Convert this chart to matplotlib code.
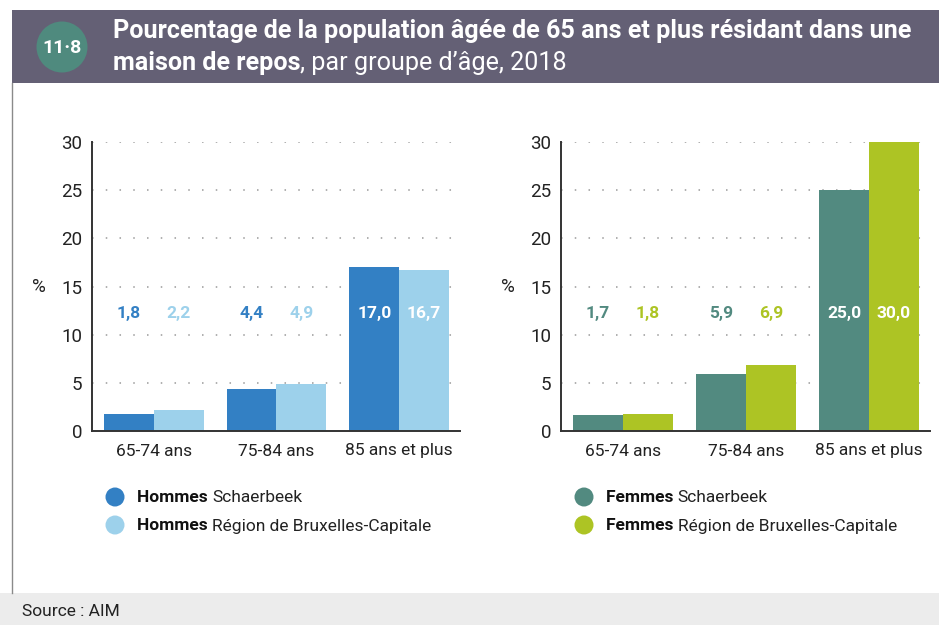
import matplotlib
matplotlib.use("Agg")
import matplotlib.pyplot as plt
from matplotlib.patches import Rectangle, Ellipse
import numpy as np

plt.rcParams['font.family'] = ['Roboto', 'DejaVu Sans']

# data
age_groups = ["65-74 ans", "75-84 ans", "85 ans et plus"]
hommes_schaerbeek = [1.8, 4.4, 17.0]
hommes_region = [2.2, 4.9, 16.7]
femmes_schaerbeek = [1.7, 5.9, 25.0]
femmes_region = [1.8, 6.9, 30.0]
yticks = [0, 5, 10, 15, 20, 25, 30]

C_H1, C_H2 = "#3380c4", "#9dd1eb"
C_F1, C_F2 = "#528a80", "#adc424"

W, H = 939, 625
fig = plt.figure(figsize=(W / 100, H / 100), dpi=100)
fig.patch.set_facecolor("white")


def px(x, y):
    return x / W, 1 - y / H


def dot(x, y, d, color):
    fig.add_artist(Ellipse(px(x, y), d / W, d / H, transform=fig.transFigure,
                           facecolor=color, edgecolor="none"))


# header band, frame line and footer
fig.add_artist(Rectangle(px(12, 83), (W - 12) / W, 73 / H, transform=fig.transFigure,
                         facecolor="#646075", edgecolor="none"))
fig.add_artist(Rectangle(px(0, 625), 1, 32 / H, transform=fig.transFigure,
                         facecolor="#ececec", edgecolor="none"))
fig.add_artist(plt.Line2D([12 / W, 12 / W], [1 - 83 / H, 1 - 593 / H],
                          transform=fig.transFigure, color="#8a8a8a", lw=1))

# badge
dot(62, 47, 51, "#4f8a7e")
fig.text(*px(62, 48), "11·8", color="white", fontsize=14, fontweight="bold",
         ha="center", va="center")

fig.canvas.draw()
renderer = fig.canvas.get_renderer()


def mixed(x, y, parts, **kw):
    """Write consecutive text pieces with different weights on one line."""
    xf, yf = px(x, y)
    for s, weight, color in parts:
        t = fig.text(xf, yf, s, fontweight=weight, color=color, va="center", **kw)
        bb = t.get_window_extent(renderer=renderer)
        xf += bb.width / W


# title: shrink the font until the first line fits the band
title1 = "Pourcentage de la population âgée de 65 ans et plus résidant dans une"
t = fig.text(*px(113, 31), title1, color="white", fontsize=19, fontweight="bold", va="center")
tw = t.get_window_extent(renderer=renderer).width
tsize = 19 * 800 / tw
t.set_fontsize(tsize)
mixed(113, 63, [("maison de repos", "bold", "white"),
                (", par groupe d’âge, 2018", "normal", "white")], fontsize=tsize)


def panel(x0, x1, s1, s2, c1, c2):
    ax = fig.add_axes([x0 / W, 1 - 431 / H, (x1 - x0) / W, 289 / H])
    x = np.arange(len(age_groups))
    w = 0.405
    ax.bar(x - w / 2, s1, w, color=c1, linewidth=0)
    ax.bar(x + w / 2, s2, w, color=c2, linewidth=0)
    ax.set_ylim(0, 30)
    ax.set_xlim(-0.505, 2.497)
    ax.set_yticks(yticks)
    ax.set_xticks(x)
    ax.set_xticklabels(age_groups)
    ax.tick_params(length=0, labelsize=13.5, colors="#222222", pad=7)
    ax.tick_params(axis="x", labelsize=12.5, pad=9)
    for sp in ("top", "right"):
        ax.spines[sp].set_visible(False)
    for sp in ("left", "bottom"):
        ax.spines[sp].set_color("#333333")
        ax.spines[sp].set_linewidth(1.4)
    for yv in yticks[1:]:
        ax.axhline(yv, color="#9a9a9a", lw=1.1, ls=(0, (1, 8)), zorder=0)
    ax.set_ylabel("%", rotation=0, fontsize=13.5, color="#222222", labelpad=16, va="center")
    big = np.argmax(s1)
    for i in range(len(age_groups)):
        for off, vals, col in ((-w / 2, s1, c1), (w / 2, s2, c2)):
            tc = "white" if i == big else col
            ax.text(i + off, 12.2, f"{vals[i]:.1f}".replace(".", ","), color=tc,
                    fontsize=12.5, fontweight="bold", ha="center", va="center")
    return ax


panel(92, 460, hommes_schaerbeek, hommes_region, C_H1, C_H2)
panel(561, 930, femmes_schaerbeek, femmes_region, C_F1, C_F2)

# legends
for lx, sex, c1, c2 in ((115, "Hommes", C_H1, C_H2), (584, "Femmes", C_F1, C_F2)):
    for ly, place, c in ((497, "Schaerbeek", c1), (525, "Région de Bruxelles-Capitale", c2)):
        dot(lx, ly, 19, c)
        mixed(lx + 22, ly + 1, [(sex + " ", "bold", "#111111"),
                                (place, "normal", "#222222")], fontsize=12.5)

fig.text(*px(22, 612), "Source : AIM", fontsize=12.5, color="#222222", va="center")

fig.savefig("out.png", dpi=100)
